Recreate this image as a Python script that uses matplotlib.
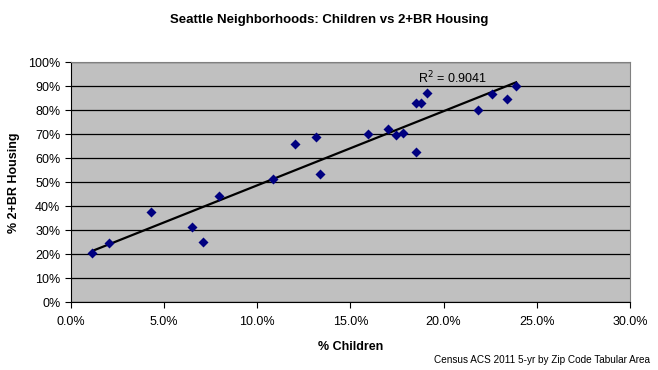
import matplotlib
matplotlib.use('Agg')
import matplotlib.pyplot as plt
import numpy as np
from matplotlib.ticker import PercentFormatter, MultipleLocator

plt.rcParams['font.family'] = ['Liberation Sans', 'DejaVu Sans']

# % children vs % 2+ bedroom housing, per zip code tabulation area
children = [1.16, 2.05, 4.31, 6.53, 7.08, 7.97, 10.83, 12.02, 13.18, 13.38, 15.97,
            17.04, 17.45, 17.84, 18.51, 18.81, 18.51, 19.10, 21.87, 22.58, 23.42, 23.89]
housing = [20.4, 24.6, 37.5, 31.4, 25.0, 44.2, 51.2, 65.8, 68.7, 53.3, 70.1,
           72.2, 69.6, 70.5, 82.9, 82.9, 62.6, 87.2, 80.0, 86.7, 84.6, 90.1]
r2_label = 'R$^2$ = 0.9041'

x = np.array(children)
y = np.array(housing)
slope, intercept = np.polyfit(x, y, 1)
xs = np.array([x.min(), x.max()])

fig = plt.figure(figsize=(6.58, 3.70), dpi=100)
ax = fig.add_axes([0.1075, 0.183, 0.85, 0.6484])
ax.set_facecolor('#C0C0C0')

ax.plot(xs, slope * xs + intercept, color='black', lw=1.6, zorder=3)
ax.scatter(x, y, marker='D', s=26, color='#000080', zorder=4, linewidths=0)

ax.set_xlim(0, 30)
ax.set_ylim(0, 100)
ax.xaxis.set_major_locator(MultipleLocator(5))
ax.yaxis.set_major_locator(MultipleLocator(10))
ax.xaxis.set_major_formatter(PercentFormatter(decimals=1))
ax.yaxis.set_major_formatter(PercentFormatter(decimals=0))
ax.grid(axis='y', color='black', lw=0.9)
ax.set_axisbelow(True)
ax.tick_params(labelsize=9, length=4, direction='out', colors='black')
ax.tick_params(axis='x', pad=6)
for s in ['top', 'right']:
    ax.spines[s].set_color('#808080')
for s in ['left', 'bottom']:
    ax.spines[s].set_color('black')

ax.text(18.6, 93.6, r2_label, fontsize=9, ha='left', va='center')

ax.set_xlabel('% Children', fontsize=9, fontweight='bold', labelpad=9)
ax.set_ylabel('% 2+BR Housing', fontsize=9, fontweight='bold', labelpad=6)
fig.text(0.5, 0.945, 'Seattle Neighborhoods: Children vs 2+BR Housing',
         ha='center', va='center', fontsize=9.5, fontweight='bold')
fig.text(0.988, 0.027, 'Census ACS 2011 5-yr by Zip Code Tabular Area',
         ha='right', va='center', fontsize=7.2)

fig.savefig('out.png', dpi=100)
